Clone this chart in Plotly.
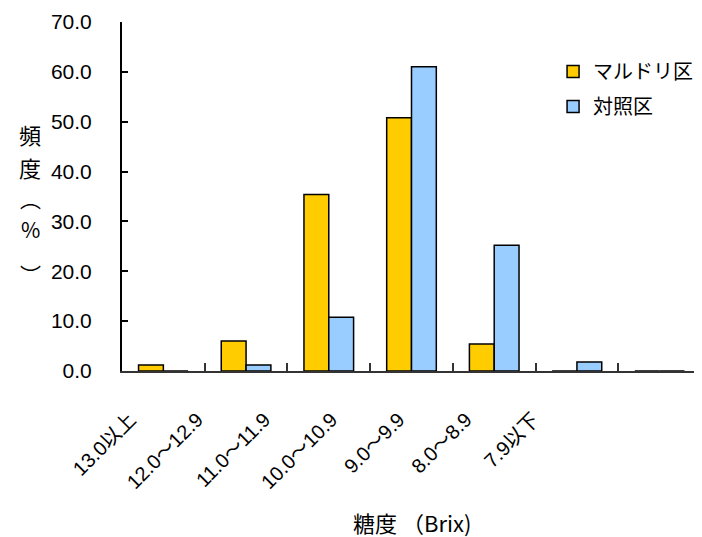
import plotly.graph_objects as go

categories = ["13.0以上", "12.0～12.9", "11.0～11.9", "10.0～10.9", "9.0～9.9", "8.0～8.9", "7.9以下"]
maruduri = [1.2, 6.0, 35.4, 50.8, 5.4, 0.0, 0.0]
control = [0.0, 1.2, 10.8, 61.0, 25.2, 1.8, 0.0]
series_names = ["マルドリ区", "対照区"]
y_ticks = [0, 10, 20, 30, 40, 50, 60, 70]
x_title = "糖度 （Brix)"
y_title_chars = ["頻", "度", "︵", "%", "︶"]

FONT = "Liberation Sans, Noto Sans CJK JP, sans-serif"
CJK = "Noto Sans CJK JP, sans-serif"

fig = go.Figure()
fig.add_trace(go.Bar(x=categories, y=maruduri, name=series_names[0], legendgroup="a",
                     marker=dict(color="#FFCC00", line=dict(color="black", width=1.5))))
fig.add_trace(go.Bar(x=categories, y=control, name=series_names[1], legendgroup="b",
                     marker=dict(color="#99CCFF", line=dict(color="black", width=1.5))))
# carrier for the (offset) category labels axis; invisible
fig.add_trace(go.Scatter(x=categories, y=maruduri, xaxis="x2", mode="markers",
                         marker=dict(opacity=0), showlegend=False, hoverinfo="skip"))

n = len(categories)
# page body has an 8px margin, so the figure is sized/offset to compensate
H = 529
fig.update_layout(
    width=694, height=H,
    margin=dict(l=114, r=1, t=14, b=H - 14 - 349, autoexpand=False),
    paper_bgcolor="white", plot_bgcolor="white",
    barmode="group", bargap=0.4, bargroupgap=0,
    font=dict(family=FONT, size=20, color="black"),
    legend=dict(x=0.7445, y=0.914, xanchor="left", yanchor="top",
                font=dict(size=20, family=CJK), bgcolor="rgba(0,0,0,0)",
                traceorder="grouped", tracegroupgap=6),
    xaxis=dict(showline=True, linecolor="#333333", linewidth=2, ticks="inside",
               tickson="boundaries", ticklen=8, tickwidth=2, tickcolor="#333333",
               showticklabels=False, showgrid=False, automargin=False,
               range=[-0.5, n - 0.5]),
    xaxis2=dict(overlaying="x", anchor="y", side="bottom", type="category",
                categoryarray=categories, tickvals=categories, ticktext=categories,
                range=[-0.12, 8.496], showline=False, ticks="", showgrid=False,
                tickangle=-45, tickfont=dict(size=20, family=FONT),
                ticklabelstandoff=32, automargin=False, zeroline=False),
    yaxis=dict(range=[0, 70], tickvals=y_ticks, tickformat=".1f", showline=True,
               linecolor="black", linewidth=2, ticks="inside", ticklen=6, tickwidth=2,
               tickcolor="black", showgrid=False, zeroline=False, tickfont=dict(size=21),
               ticklabelstandoff=24, automargin=False),
)

# x axis title
fig.add_annotation(text=x_title, xref="paper", yref="paper", x=0.5, y=(371 - 522) / 349,
                   showarrow=False, xanchor="center", yanchor="middle",
                   font=dict(size=22, family=CJK))

# stacked vertical y title
y_px = [134, 167, 198, 229, 274]
y_sizes = [22, 22, 21, 21, 21]
for ch, yp, sz in zip(y_title_chars, y_px, y_sizes):
    fig.add_annotation(text=ch, xref="paper", yref="paper",
                       x=(30 - 122) / 579, y=(371 - yp) / 349,
                       showarrow=False, xanchor="center", yanchor="middle",
                       font=dict(size=sz, family=CJK))

fig.write_html("out.html")
